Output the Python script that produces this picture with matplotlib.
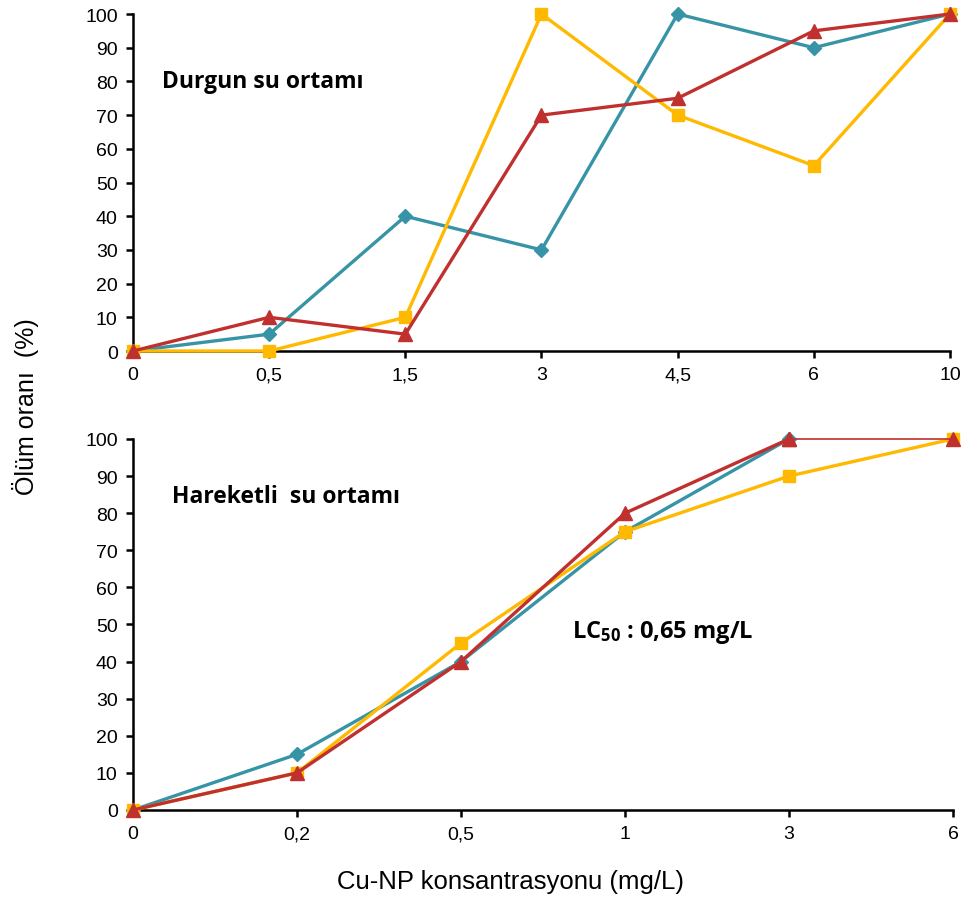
import numpy as np
import matplotlib
matplotlib.use('Agg')
import matplotlib.pyplot as plt

plt.rcParams['font.family'] = ['Liberation Sans', 'DejaVu Sans']
plt.rcParams['mathtext.default'] = 'regular'

# ust panel: durgun su
x_top = ['0', '0,5', '1,5', '3', '4,5', '6', '10']
teal_top = [0, 5, 40, 30, 100, 90, 100]
red_top = [0, 10, 5, 70, 75, 95, 100]
yellow_top = [0, 0, 10, 100, 70, 55, 100]

# alt panel: hareketli su
x_bot = ['0', '0,2', '0,5', '1', '3', '6']
teal_bot = [0, 15, 40, 75, 100]
red_bot = [0, 10, 40, 80, 100, 100]
yellow_bot = [0, 10, 45, 75, 90, 100]

c_teal = '#3794A6'
c_red = '#C0302E'
c_yel = '#FFB900'
lw = 2.4

fig = plt.figure(figsize=(9.68, 9.04), dpi=100)
ax1 = fig.add_axes([0.1374, 0.6106, 0.844, 0.3728])
ax2 = fig.add_axes([0.1374, 0.1029, 0.8471, 0.4104])


def style(ax, labels):
    ax.set_xlim(0, len(labels) - 1)
    ax.set_ylim(0, 100)
    ax.set_yticks(np.arange(0, 101, 10))
    ax.set_xticks(np.arange(len(labels)))
    ax.set_xticklabels(labels)
    for s in ['top', 'right']:
        ax.spines[s].set_visible(False)
    for s in ['left', 'bottom']:
        ax.spines[s].set_linewidth(1.8)
    ax.tick_params(direction='out', length=5, width=1.8, labelsize=14, pad=6)


i = np.arange(len(x_top))
ax1.plot(i, teal_top, color=c_teal, lw=lw, marker='D', ms=7, clip_on=False, zorder=3)
ax1.plot(i, yellow_top, color=c_yel, lw=lw, marker='s', ms=9, clip_on=False, zorder=4)
ax1.plot(i, red_top, color=c_red, lw=lw, marker='^', ms=10, clip_on=False, zorder=5)
style(ax1, x_top)
ax1.text(0.035, 0.80, 'Durgun su ortamı', transform=ax1.transAxes, fontsize=16.5,
         fontweight='bold', family='Open Sans', va='center')

j = np.arange(len(x_bot))
ax2.plot(j[:len(teal_bot)], teal_bot, color=c_teal, lw=lw, marker='D', ms=7, clip_on=False, zorder=3)
ax2.plot(j, yellow_bot, color=c_yel, lw=lw, marker='s', ms=9, clip_on=False, zorder=4)
ax2.plot(j[:5], red_bot[:5], color=c_red, lw=lw, marker='^', ms=10, clip_on=False, zorder=5)
ax2.plot(j[4:], red_bot[4:], color=c_red, lw=1.2, marker='^', ms=10, clip_on=False, zorder=5)
style(ax2, x_bot)
ax2.text(0.048, 0.845, 'Hareketli  su ortamı', transform=ax2.transAxes, fontsize=16.5,
         fontweight='bold', family='Open Sans', va='center')
ax2.text(0.535, 0.48, 'LC$_{50}$ : 0,65 mg/L', transform=ax2.transAxes, fontsize=17,
         fontweight='bold', family='Open Sans', va='center')

fig.text(0.527, 0.024, 'Cu-NP konsantrasyonu (mg/L)', fontsize=18.5, ha='center', va='center')
fig.text(0.026, 0.55, 'Ölüm oranı  (%)', rotation=90, fontsize=18, va='center', ha='center')

fig.savefig('out.png', dpi=100)
